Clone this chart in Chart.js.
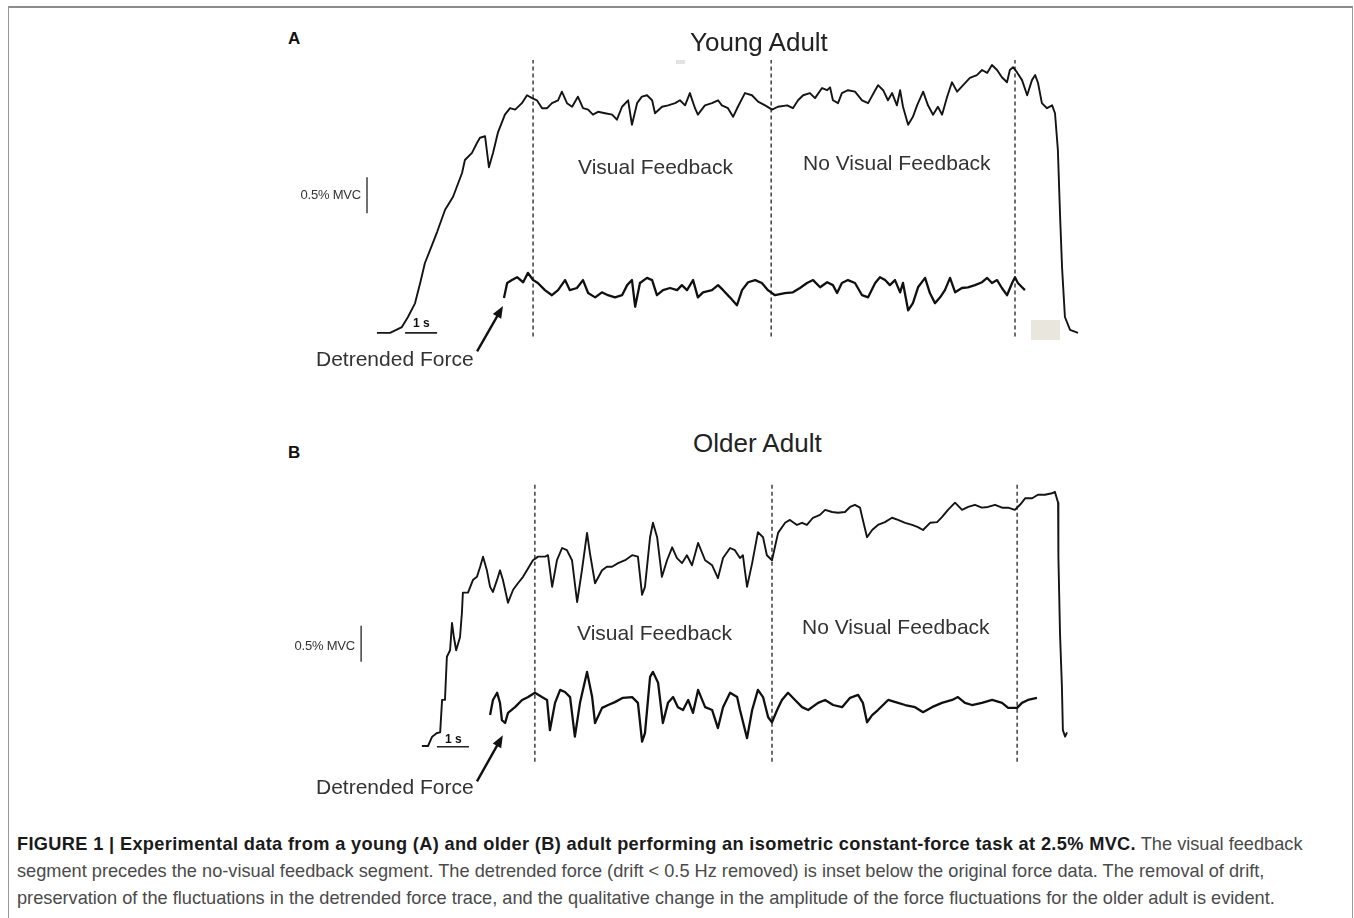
<!DOCTYPE html>
<html>
<head>
<meta charset="utf-8">
<script src="https://cdn.jsdelivr.net/npm/chart.js@4.4.0/dist/chart.umd.min.js"></script>
<style>
  html,body{margin:0;padding:0;background:#fff;}
  body{width:1354px;height:918px;position:relative;overflow:hidden;font-family:"Liberation Sans",Arial,Helvetica,sans-serif;}
  .frame{position:absolute;left:8px;top:6px;width:1343px;height:940px;border-top:2px solid #8c8c8c;border-left:1px solid #9a9a9a;border-right:1px solid #9a9a9a;}
  .t{position:absolute;line-height:1;white-space:nowrap;color:#333;}
  canvas{position:absolute;}
  .cap{position:absolute;left:17px;top:831px;width:1330px;font-size:18.2px;line-height:27px;color:#4a4a4a;white-space:nowrap;}
  .cap b{color:#1a1a1a;letter-spacing:0.35px;}
</style>
</head>
<body>
<div class="frame"></div>
<div style="position:absolute;left:1031px;top:320px;width:29px;height:20px;background:#e9e7dd;"></div>
<div style="position:absolute;left:676px;top:60px;width:9px;height:4px;background:#e2e2e2;"></div>

<canvas id="panelA" width="870" height="320" style="left:220px;top:50px;"></canvas>
<canvas id="panelB" width="870" height="330" style="left:220px;top:470px;"></canvas>

<div class="t" style="left:288px;top:30px;font-size:17px;font-weight:bold;color:#111;">A</div>
<div class="t" style="left:690px;top:29px;font-size:26px;color:#222;">Young Adult</div>
<div class="t" style="left:578px;top:156px;font-size:21px;">Visual Feedback</div>
<div class="t" style="left:803px;top:152px;font-size:21px;">No Visual Feedback</div>
<div class="t" style="left:258px;width:103px;text-align:right;top:188px;font-size:13px;letter-spacing:-0.2px;">0.5% MVC</div>
<div class="t" style="left:413px;top:317px;font-size:12px;font-weight:bold;color:#111;">1 s</div>
<div class="t" style="left:316px;top:348px;font-size:21px;">Detrended Force</div>

<div class="t" style="left:288px;top:444px;font-size:17px;font-weight:bold;color:#111;">B</div>
<div class="t" style="left:693px;top:430px;font-size:26px;color:#222;">Older Adult</div>
<div class="t" style="left:577px;top:622px;font-size:21px;">Visual Feedback</div>
<div class="t" style="left:802px;top:616px;font-size:21px;">No Visual Feedback</div>
<div class="t" style="left:252px;width:103px;text-align:right;top:639px;font-size:13px;letter-spacing:-0.2px;">0.5% MVC</div>
<div class="t" style="left:445px;top:733px;font-size:12px;font-weight:bold;color:#111;">1 s</div>
<div class="t" style="left:316px;top:776px;font-size:21px;">Detrended Force</div>

<div class="cap"><b>FIGURE 1 | Experimental data from a young (A) and older (B) adult performing an isometric constant-force task at 2.5% MVC.</b> The visual feedback<br>segment precedes the no-visual feedback segment. The detrended force (drift &lt; 0.5 Hz removed) is inset below the original force data. The removal of drift,<br>preservation of the fluctuations in the detrended force trace, and the qualitative change in the amplitude of the force fluctuations for the older adult is evident.</div>

<script>
// ---- Data: [time (s), force (% MVC)] ----
const youngForce = [
[0.06,0.03],[0.47,0.03],[0.84,0.11],[1.03,0.25],[1.25,0.44],[1.41,0.72],[1.56,1.00],[1.72,1.18],[1.94,1.43],[2.19,1.74],[2.44,1.92],[2.72,2.25],[2.81,2.43],[3.03,2.53],[3.19,2.67],[3.28,2.74],[3.44,2.76],[3.56,2.33],[3.69,2.53],[3.84,2.81],[4.06,3.06],[4.22,3.15],[4.38,3.13],[4.59,3.22],[4.75,3.33],[4.91,3.29],[5.06,3.26],[5.22,3.15],[5.38,3.15],[5.53,3.22],[5.72,3.26],[5.84,3.38],[6.00,3.22],[6.16,3.17],[6.34,3.31],[6.50,3.15],[6.66,3.13],[6.81,3.06],[6.97,3.10],[7.19,3.08],[7.41,3.06],[7.56,2.99],[7.72,3.17],[7.91,3.26],[8.03,2.92],[8.19,3.22],[8.34,3.31],[8.50,3.33],[8.66,3.26],[8.75,3.08],[8.97,3.17],[9.16,3.19],[9.38,3.22],[9.53,3.26],[9.69,3.19],[9.84,3.36],[10.00,3.15],[10.09,3.06],[10.31,3.19],[10.53,3.22],[10.72,3.26],[10.84,3.19],[11.03,3.15],[11.19,3.03],[11.34,3.17],[11.56,3.36],[11.78,3.33],[11.97,3.24],[12.19,3.19],[12.41,3.13],[12.59,3.17],[12.88,3.19],[13.06,3.15],[13.22,3.26],[13.38,3.33],[13.59,3.36],[13.75,3.29],[13.97,3.43],[14.13,3.40],[14.22,3.44],[14.31,3.26],[14.47,3.22],[14.59,3.36],[14.78,3.40],[15.00,3.38],[15.22,3.26],[15.41,3.22],[15.63,3.40],[15.72,3.47],[15.88,3.40],[16.03,3.26],[16.16,3.36],[16.31,3.19],[16.41,3.40],[16.50,3.17],[16.66,2.92],[16.81,3.03],[16.94,3.19],[17.13,3.38],[17.28,3.19],[17.44,3.06],[17.59,3.17],[17.72,3.06],[17.88,3.31],[18.03,3.51],[18.19,3.38],[18.38,3.47],[18.59,3.57],[18.81,3.61],[18.97,3.68],[19.13,3.64],[19.28,3.75],[19.44,3.68],[19.59,3.58],[19.75,3.51],[19.84,3.68],[19.94,3.72],[20.06,3.65],[20.22,3.54],[20.38,3.33],[20.53,3.54],[20.63,3.61],[20.72,3.50],[20.84,3.22],[21.00,3.15],[21.16,3.19],[21.25,3.08],[21.34,2.57],[21.41,1.64],[21.47,0.94],[21.56,0.25],[21.72,0.07],[21.97,0.03]
];
const youngDetrended = [
[4.03,-0.14],[4.13,0.07],[4.28,0.11],[4.44,0.15],[4.63,0.08],[4.78,0.21],[4.94,0.11],[5.09,0.07],[5.31,-0.03],[5.53,-0.10],[5.72,-0.03],[5.94,0.11],[6.09,-0.03],[6.31,0.00],[6.50,0.11],[6.66,-0.07],[6.88,-0.13],[7.09,-0.06],[7.28,-0.10],[7.50,-0.13],[7.72,-0.10],[7.88,0.04],[8.03,0.11],[8.13,-0.26],[8.28,0.07],[8.50,0.14],[8.66,0.11],[8.81,-0.10],[9.00,-0.03],[9.22,0.00],[9.44,-0.03],[9.59,0.04],[9.75,-0.03],[9.94,0.11],[10.09,-0.13],[10.25,-0.06],[10.53,-0.03],[10.72,0.04],[10.88,-0.03],[11.09,-0.13],[11.31,-0.24],[11.47,-0.03],[11.66,0.08],[11.88,0.11],[12.09,0.07],[12.28,-0.03],[12.50,-0.10],[12.81,-0.07],[13.06,-0.06],[13.28,0.00],[13.50,0.07],[13.69,0.11],[13.91,0.01],[14.13,0.08],[14.31,0.04],[14.44,-0.07],[14.59,0.07],[14.78,0.11],[15.00,0.07],[15.22,-0.10],[15.41,-0.13],[15.63,0.07],[15.78,0.15],[15.94,0.11],[16.09,0.04],[16.25,0.11],[16.41,-0.06],[16.50,0.07],[16.66,-0.31],[16.81,-0.21],[16.97,0.01],[17.19,0.14],[17.34,-0.07],[17.50,-0.21],[17.66,-0.13],[17.81,-0.03],[17.97,0.14],[18.13,-0.06],[18.34,0.00],[18.53,0.01],[18.75,0.04],[18.97,0.08],[19.13,0.14],[19.28,0.07],[19.44,0.11],[19.59,0.00],[19.75,-0.10],[19.91,0.07],[20.00,0.15],[20.09,0.07],[20.22,0.01],[20.31,-0.03]
];
const olderForce = [
[0.06,0.00],[0.25,0.00],[0.38,0.13],[0.53,0.18],[0.63,0.19],[0.69,0.64],[0.78,0.64],[0.84,1.24],[0.94,1.33],[1.00,1.71],[1.06,1.51],[1.13,1.33],[1.25,1.51],[1.31,1.85],[1.34,2.13],[1.50,2.13],[1.66,2.31],[1.78,2.35],[1.88,2.49],[1.97,2.63],[2.09,2.44],[2.19,2.21],[2.28,2.14],[2.41,2.31],[2.50,2.44],[2.59,2.31],[2.75,1.99],[2.91,2.17],[3.06,2.26],[3.22,2.35],[3.38,2.47],[3.53,2.58],[3.69,2.63],[3.91,2.63],[4.00,2.65],[4.13,2.21],[4.28,2.58],[4.44,2.75],[4.59,2.72],[4.75,2.58],[4.91,2.00],[5.06,2.44],[5.22,2.96],[5.31,2.68],[5.47,2.26],[5.69,2.44],[5.84,2.49],[6.00,2.49],[6.19,2.54],[6.41,2.58],[6.63,2.65],[6.81,2.63],[6.94,2.10],[7.03,2.21],[7.19,2.90],[7.28,3.10],[7.41,2.90],[7.56,2.35],[7.72,2.58],[7.88,2.76],[8.03,2.61],[8.19,2.54],[8.34,2.65],[8.50,2.51],[8.69,2.82],[8.91,2.58],[9.13,2.51],[9.31,2.33],[9.47,2.61],[9.69,2.75],[9.84,2.72],[10.00,2.61],[10.09,2.65],[10.22,2.21],[10.38,2.54],[10.56,2.97],[10.72,2.90],[10.84,2.65],[11.00,2.58],[11.09,2.76],[11.19,2.96],[11.41,3.10],[11.56,3.14],[11.78,3.07],[11.94,3.10],[12.09,3.07],[12.28,3.17],[12.50,3.21],[12.66,3.28],[12.88,3.25],[13.06,3.24],[13.28,3.25],[13.44,3.32],[13.59,3.35],[13.75,3.31],[13.84,3.14],[13.97,2.90],[14.13,3.00],[14.31,3.07],[14.53,3.11],[14.75,3.17],[14.94,3.14],[15.16,3.10],[15.38,3.07],[15.56,3.04],[15.72,3.00],[15.94,3.10],[16.16,3.11],[16.31,3.18],[16.50,3.28],[16.72,3.38],[16.94,3.28],[17.13,3.32],[17.34,3.35],[17.56,3.31],[17.75,3.32],[17.97,3.35],[18.19,3.31],[18.38,3.31],[18.59,3.28],[18.75,3.35],[18.91,3.44],[19.13,3.44],[19.31,3.49],[19.53,3.49],[19.75,3.51],[19.84,3.53],[19.94,3.38],[19.95,2.63],[20.00,1.57],[20.06,0.82],[20.09,0.22],[20.16,0.13],[20.22,0.19]
];
const olderDetrended = [
[2.19,-0.14],[2.28,0.07],[2.41,0.17],[2.50,0.03],[2.56,-0.21],[2.66,-0.25],[2.75,-0.11],[2.97,-0.03],[3.19,0.07],[3.38,0.11],[3.59,0.17],[3.81,0.11],[3.97,0.07],[4.06,-0.35],[4.22,0.03],[4.38,0.21],[4.53,0.18],[4.69,0.11],[4.84,-0.44],[5.00,0.03],[5.22,0.46],[5.38,0.11],[5.47,-0.25],[5.69,-0.04],[5.88,0.00],[6.09,0.04],[6.34,0.10],[6.63,0.11],[6.81,0.03],[6.94,-0.51],[7.03,-0.39],[7.19,0.39],[7.28,0.46],[7.44,0.31],[7.59,-0.25],[7.75,0.03],[7.91,0.11],[8.06,-0.03],[8.22,-0.07],[8.38,0.07],[8.53,-0.11],[8.69,0.21],[8.91,-0.03],[9.13,-0.07],[9.31,-0.32],[9.47,-0.03],[9.69,0.17],[9.91,0.11],[10.00,-0.07],[10.22,-0.46],[10.38,-0.07],[10.56,0.21],[10.72,0.11],[10.88,-0.17],[11.00,-0.24],[11.16,-0.07],[11.31,0.07],[11.50,0.17],[11.72,0.07],[11.94,-0.03],[12.13,-0.07],[12.44,0.03],[12.66,0.07],[12.91,0.00],[13.19,-0.03],[13.44,0.10],[13.69,0.14],[13.84,0.03],[13.97,-0.24],[14.13,-0.14],[14.31,-0.07],[14.63,0.07],[14.94,0.03],[15.16,0.00],[15.47,-0.03],[15.72,-0.10],[16.00,-0.03],[16.31,0.03],[16.63,0.07],[16.81,0.11],[17.03,0.03],[17.25,0.00],[17.56,0.03],[17.88,0.07],[18.19,0.03],[18.38,-0.04],[18.66,-0.04],[18.81,0.03],[19.00,0.07],[19.28,0.10]
];

// Segment boundaries (s) and their vertical extent (% MVC)
const youngSegmentT = [4.94, 12.38, 20.00];
const youngSegmentF = [-0.02, 3.82];
const olderSegmentT = [3.59, 11.00, 18.66];
const olderSegmentF = [-0.22, 3.63];

// Scale bars: 1 s and 0.5 % MVC, with anchor [time, force]
const scaleBarTime = 1;
const scaleBarForce = 0.5;
const youngTimeBar = [0.94, 0.03];
const youngForceBar = [-0.25, 1.69];
const olderTimeBar = [0.53, -0.01];
const olderForceBar = [-1.84, 1.17];

// Arrow pointing at start of detrended trace: [time, detrended force]
const youngArrow = {from:[3.19,-0.88], to:[4.00,-0.25]};
const olderArrow = {from:[1.78,-1.06], to:[2.59,-0.42]};

const pts = arr => arr.map(p => ({x:p[0], y:p[1]}));

const arrowPlugin = {
  id: 'arrow',
  afterDatasetsDraw(chart, args, opts) {
    const ctx = chart.ctx, xs = chart.scales.x, ys = chart.scales.y2;
    const x1 = xs.getPixelForValue(opts.from[0]), y1 = ys.getPixelForValue(opts.from[1]);
    const x2 = xs.getPixelForValue(opts.to[0]), y2 = ys.getPixelForValue(opts.to[1]);
    const ang = Math.atan2(y2 - y1, x2 - x1), hl = 13, hw = 0.38;
    ctx.save();
    ctx.strokeStyle = '#111'; ctx.fillStyle = '#111'; ctx.lineWidth = 2.4;
    ctx.beginPath(); ctx.moveTo(x1, y1);
    ctx.lineTo(x2 - hl * 0.8 * Math.cos(ang), y2 - hl * 0.8 * Math.sin(ang)); ctx.stroke();
    ctx.beginPath(); ctx.moveTo(x2, y2);
    ctx.lineTo(x2 - hl * Math.cos(ang - hw), y2 - hl * Math.sin(ang - hw));
    ctx.lineTo(x2 - hl * Math.cos(ang + hw), y2 - hl * Math.sin(ang + hw));
    ctx.closePath(); ctx.fill();
    ctx.restore();
  }
};

function makePanel(id, force, detr, segT, segF, tBar, fBar, arrow, xr, yr, y2r) {
  const ds = [];
  ds.push({data: pts(force), yAxisID:'y', borderColor:'#141414', borderWidth:1.9});
  ds.push({data: pts(detr), yAxisID:'y2', borderColor:'#101010', borderWidth:2.3});
  segT.forEach(t => ds.push({data: pts([[t, segF[0]], [t, segF[1]]]), yAxisID:'y', borderColor:'#222', borderWidth:1.3, borderDash:[4,3]}));
  ds.push({data: pts([[tBar[0], tBar[1]], [tBar[0] + scaleBarTime, tBar[1]]]), yAxisID:'y', borderColor:'#222', borderWidth:1.6});
  ds.push({data: pts([[fBar[0], fBar[1]], [fBar[0], fBar[1] + scaleBarForce]]), yAxisID:'y', borderColor:'#333', borderWidth:1.4});
  ds.forEach(d => { d.pointRadius = 0; d.fill = false; d.tension = 0; d.borderJoinStyle = 'round'; });
  return new Chart(document.getElementById(id), {
    type: 'line',
    data: {datasets: ds},
    plugins: [arrowPlugin],
    options: {
      responsive: false, animation: false, events: [],
      layout: {padding: 0},
      plugins: {legend: {display: false}, tooltip: {enabled: false}, arrow: arrow},
      scales: {
        x: {type: 'linear', display: false, min: xr[0], max: xr[1]},
        y: {display: false, min: yr[0], max: yr[1]},
        y2: {display: false, min: y2r[0], max: y2r[1]}
      }
    }
  });
}

makePanel('panelA', youngForce, youngDetrended, youngSegmentT, youngSegmentF, youngTimeBar, youngForceBar, youngArrow,
  [-4.84375, 22.34375], [-0.4861, 3.9583], [-1.1389, 3.3056]);
makePanel('panelB', olderForce, olderDetrended, olderSegmentT, olderSegmentF, olderTimeBar, olderForceBar, olderArrow,
  [-6.25, 20.9375], [-0.75, 3.8333], [-1.3194, 3.2639]);
</script>
</body>
</html>
